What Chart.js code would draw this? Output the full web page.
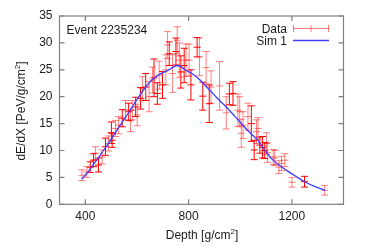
<!DOCTYPE html>
<html><head><meta charset="utf-8">
<script src="https://cdn.jsdelivr.net/npm/chart.js@4.4.0/dist/chart.umd.min.js"></script>
<style>html,body{margin:0;padding:0;background:#fff;}#wrap{width:382px;height:248px;}</style>
</head><body><div id="wrap"><canvas id="c" width="382" height="248"></canvas></div>
<script>
const xTicks = [400, 800, 1200];
const yTicks = [0, 5, 10, 15, 20, 25, 30, 35];

const lightDepth = [387,406,439,465,490,517,529,556,575,582,601,621,647,660,686,712,718,738,756,764,790,802,842,868,887,920,946,991,998,1004,1011,1030,1063,1069,1102,1106,1128,1134,1150,1160,1173,1200,1327];
const lightValue = [5.4,6.0,9.5,8.8,11.3,14.1,14.7,17.5,15.5,17.5,16.6,21.5,20.0,23.1,24.0,25.0,29.6,24.3,30.5,26.8,26.8,26.8,27.4,25.4,21.8,22.0,17.0,17.5,17.2,13.2,14.7,16.3,13.5,14.1,11.3,9.6,8.8,8.6,6.9,7.6,8.2,4.1,2.6];
const lightErr   = [1.0,1.0,1.2,1.3,1.4,1.5,1.6,1.8,2.0,1.8,2.0,2.2,2.8,2.4,2.6,2.8,2.5,3.5,2.5,3.2,3.0,3.0,3.5,3.0,3.0,4.5,3.0,3.0,2.8,2.6,2.5,2.5,2.2,2.0,2.0,1.8,1.4,1.4,1.2,1.3,1.2,0.9,0.9];

const darkDepth = [419,432,451,478,501,504,543,568,595,614,634,666,679,699,725,751,770,783,809,833,855,880,958,972,1043,1054,1076,1086,1095,1249];
const darkValue = [6.9,8.2,7.3,10.7,13.3,11.9,16.0,17.2,18.1,19.7,21.8,23.5,20.6,22.2,28.0,28.4,24.6,25.8,22.2,29.2,20.1,18.7,20.5,20.6,15.0,10.1,11.0,10.6,10.0,4.2];
const darkErr   = [1.0,1.2,1.3,1.6,2.0,1.3,1.6,1.6,1.8,2.0,2.5,3.5,2.0,2.5,2.2,2.5,3.0,3.2,2.8,1.8,2.6,3.5,2.0,2.2,3.3,1.8,1.5,2.0,1.5,1.0];

const simDepth = [387,410,430,450,470,497,520,540,562,587,610,634,660,692,720,740,755,770,790,810,840,870,900,926,946,980,1010,1040,1063,1090,1121,1150,1180,1215,1251,1290,1329];
const simValue = [4.7,6.0,7.3,8.6,10.0,11.9,13.6,15.1,16.6,18.5,20.2,21.8,23.2,24.3,24.9,25.5,25.8,25.6,24.9,24.4,23.3,21.8,20.3,19.0,18.1,16.3,14.7,13.2,12.2,10.4,8.5,7.3,6.3,5.2,4.15,3.3,2.6];

const FONT = "'Liberation Sans', Arial, Helvetica, sans-serif";
const LIGHT = 'rgba(255,0,0,0.5)';
const DARK = 'rgb(255,0,0)';
const BLUE = 'rgb(60,60,255)';
const FRAME = '#808080';
const TEXT = '#1a1a1a';

function pts(xs, ys) { return xs.map((x, i) => ({x: x, y: ys[i]})); }

const errorBars = {
  id: 'errorBars',
  beforeDatasetsDraw(chart) {
    const ctx = chart.ctx, xs = chart.scales.x, ys = chart.scales.y, a = chart.chartArea;
    ctx.save();
    ctx.beginPath(); ctx.rect(a.left, a.top, a.right - a.left, a.bottom - a.top); ctx.clip();
    chart.data.datasets.forEach(ds => {
      if (!ds.err) return;
      ctx.strokeStyle = ds.borderColor; ctx.lineWidth = 1;
      ds.data.forEach((p, i) => {
        const px = xs.getPixelForValue(p.x);
        const y1 = ys.getPixelForValue(p.y - ds.err[i]);
        const y2 = ys.getPixelForValue(p.y + ds.err[i]);
        ctx.beginPath();
        ctx.moveTo(px, y1); ctx.lineTo(px, y2);
        ctx.moveTo(px - 3.5, y1); ctx.lineTo(px + 3.5, y1);
        ctx.moveTo(px - 3.5, y2); ctx.lineTo(px + 3.5, y2);
        ctx.stroke();
      });
    });
    ctx.restore();
  }
};

function supText(ctx, base, sup, tail, cx, y) {
  ctx.font = '12px ' + FONT;
  const w1 = ctx.measureText(base).width, w3 = ctx.measureText(tail).width;
  ctx.font = '8px ' + FONT;
  const w2 = ctx.measureText(sup).width;
  let x = cx - (w1 + w2 + w3) / 2;
  ctx.textAlign = 'left'; ctx.textBaseline = 'alphabetic';
  ctx.font = '12px ' + FONT; ctx.fillText(base, x, y); x += w1;
  ctx.font = '8px ' + FONT; ctx.fillText(sup, x, y - 5); x += w2;
  ctx.font = '12px ' + FONT; ctx.fillText(tail, x, y);
}

const decor = {
  id: 'decor',
  afterDraw(chart) {
    const ctx = chart.ctx, xs = chart.scales.x, ys = chart.scales.y, a = chart.chartArea;
    ctx.save();
    ctx.strokeStyle = FRAME; ctx.lineWidth = 1.2;
    ctx.strokeRect(a.left, a.top, a.right - a.left, a.bottom - a.top);
    ctx.beginPath();
    yTicks.forEach(v => {
      const py = ys.getPixelForValue(v);
      ctx.moveTo(a.left, py); ctx.lineTo(a.left + 5, py);
      ctx.moveTo(a.right, py); ctx.lineTo(a.right - 5, py);
    });
    xTicks.forEach(v => {
      const px = xs.getPixelForValue(v);
      ctx.moveTo(px, a.bottom); ctx.lineTo(px, a.bottom - 5);
      ctx.moveTo(px, a.top); ctx.lineTo(px, a.top + 5);
    });
    ctx.stroke();

    ctx.fillStyle = TEXT;
    ctx.font = '12px ' + FONT; ctx.textBaseline = 'alphabetic';
    ctx.textAlign = 'left';
    ctx.fillText('Event 2235234', 66.5, 33.5);
    ctx.textAlign = 'right';
    ctx.fillText('Data', 287, 32.5);
    ctx.fillText('Sim 1', 287, 44.5);

    // legend samples
    ctx.strokeStyle = LIGHT; ctx.lineWidth = 1;
    ctx.beginPath();
    ctx.moveTo(293, 28.5); ctx.lineTo(329, 28.5);
    [293.5, 311, 328.5].forEach(x => { ctx.moveTo(x, 25); ctx.lineTo(x, 32); });
    ctx.stroke();
    ctx.strokeStyle = BLUE; ctx.lineWidth = 1.3;
    ctx.beginPath(); ctx.moveTo(293, 40.5); ctx.lineTo(329, 40.5); ctx.stroke();

    // axis titles
    ctx.fillStyle = TEXT;
    supText(ctx, 'Depth [g/cm', '2', ']', 202, 239);
    ctx.translate(24.5, 111);
    ctx.rotate(-Math.PI / 2);
    supText(ctx, 'dE/dX [PeV/g/cm', '2', ']', 0, 0);
    ctx.restore();
  }
};

new Chart(document.getElementById('c'), {
  type: 'scatter',
  data: {
    datasets: [
      { label: 'Sim 1', type: 'line', data: pts(simDepth, simValue), borderColor: BLUE, borderWidth: 1.3,
        pointRadius: 0, fill: false, cubicInterpolationMode: 'monotone', order: 0 },
      { label: 'Data', data: pts(darkDepth, darkValue), err: darkErr, borderColor: DARK, backgroundColor: DARK,
        pointStyle: 'line', pointRadius: 3.5, pointBorderWidth: 1, order: 1 },
      { label: 'Data', data: pts(lightDepth, lightValue), err: lightErr, borderColor: LIGHT, backgroundColor: LIGHT,
        pointStyle: 'line', pointRadius: 3.5, pointBorderWidth: 1, order: 2 }
    ]
  },
  options: {
    responsive: false, animation: false, devicePixelRatio: 1,
    layout: { padding: { left: 0, top: 16, right: 38.5, bottom: 0 } },
    plugins: { legend: { display: false }, tooltip: { enabled: false } },
    scales: {
      x: {
        type: 'linear', min: 300, max: 1400,
        afterBuildTicks: s => { s.ticks = xTicks.map(v => ({ value: v })); },
        afterFit: s => { s.height = 43.7; },
        grid: { display: false, drawTicks: false }, border: { display: false },
        ticks: { font: { family: FONT, size: 12 }, color: TEXT, padding: 5, maxRotation: 0,
                 callback: v => String(v) }
      },
      y: {
        type: 'linear', min: 0, max: 35,
        afterBuildTicks: s => { s.ticks = yTicks.map(v => ({ value: v })); },
        afterFit: s => { s.width = 59.5; },
        grid: { display: false, drawTicks: false }, border: { display: false },
        ticks: { font: { family: FONT, size: 12 }, color: TEXT, padding: 7, callback: v => String(v) }
      }
    }
  },
  plugins: [errorBars, decor]
});
</script></body></html>
